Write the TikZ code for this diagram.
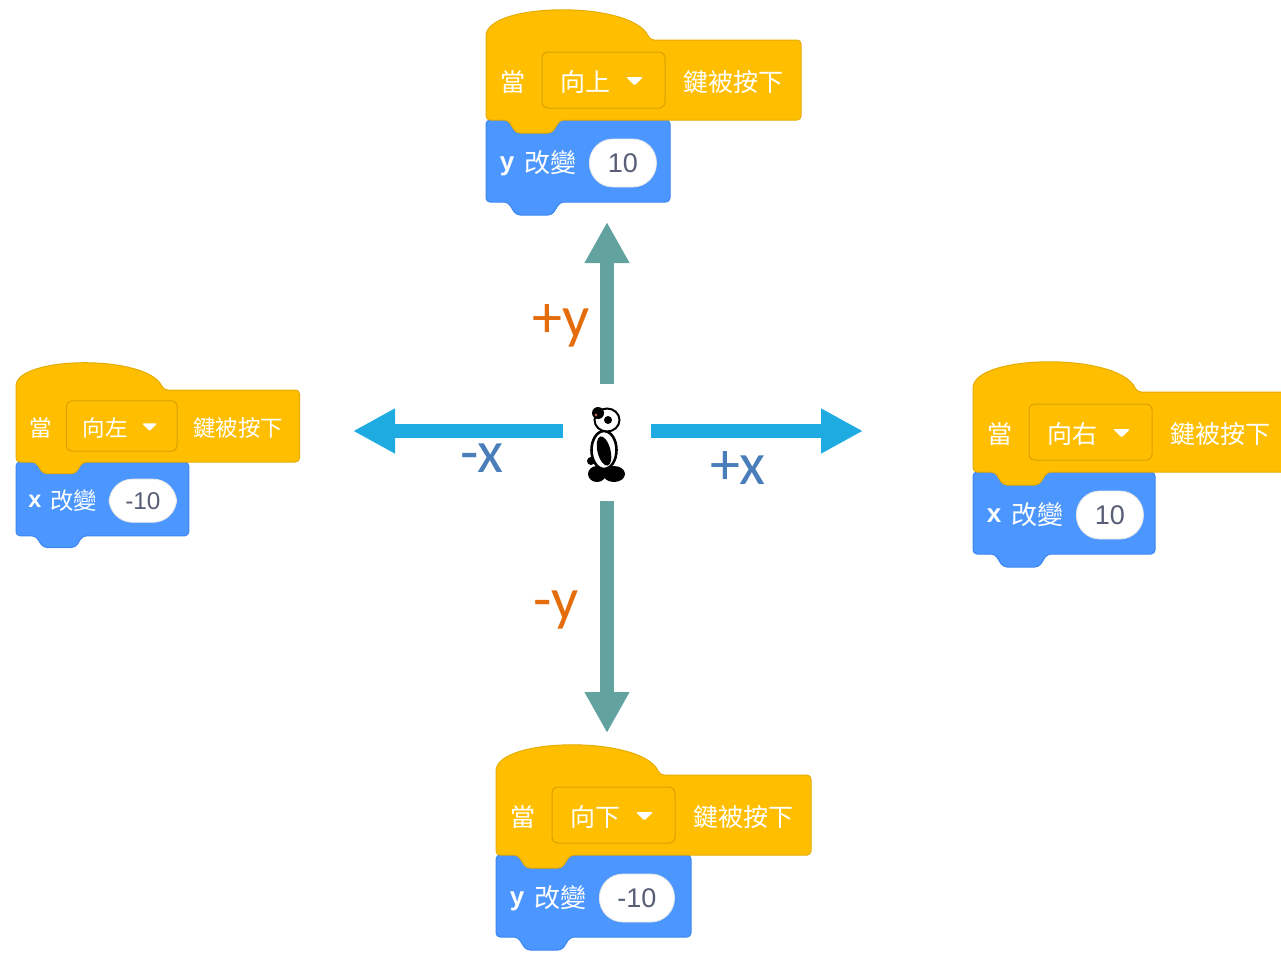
\documentclass[tikz,border=0pt]{standalone}
\usepackage{fontspec}
\setmainfont{Liberation Sans}
\newfontfamily\cjk{Noto Sans CJK TC}
\newfontfamily\lbl{Carlito}
\usetikzlibrary{arrows.meta}

\definecolor{evfill}{HTML}{FFBF00}
\definecolor{evline}{HTML}{E6AC00}
\definecolor{evmenu}{HTML}{D9A000}
\definecolor{mofill}{HTML}{4C97FF}
\definecolor{moline}{HTML}{3D86EE}
\definecolor{valtext}{HTML}{575E75}
\definecolor{axisteal}{HTML}{62A39F}
\definecolor{axisblue}{HTML}{1DABE2}
\definecolor{lblorange}{HTML}{E46C0A}
\definecolor{lblblue}{HTML}{4A7EBB}
\definecolor{pandaear}{HTML}{E07070}

\tikzset{
  hatshape/.style={fill=evfill, draw=evline, line width=1pt, rounded corners=4pt},
  motionshape/.style={fill=mofill, draw=moline, line width=1pt, rounded corners=4pt},
  menubox/.style={draw=evmenu, line width=1pt, rounded corners=6pt,
    minimum width=123pt, minimum height=56pt, inner sep=0pt},
  cjktext/.style={text=white, font=\cjk\fontsize{25}{25}\selectfont, inner sep=0pt},
  vartext/.style={text=white, font=\bfseries\fontsize{26}{26}\selectfont, inner sep=0pt, anchor=base},
  valoval/.style={fill=white, draw=black!10, line width=0.8pt, rounded corners=23.5pt,
    minimum width=67pt, minimum height=48pt, inner xsep=18pt, inner ysep=0pt,
    text=valtext, font=\fontsize{27}{27}\selectfont, anchor=west},
  axisv/.style={draw=axisteal, line width=14pt, -{Triangle[width=42pt,length=41pt]}},
  axish/.style={draw=axisblue, line width=14pt, -{Triangle[width=42pt,length=42pt]}},
  ylabel/.style={text=lblorange, font=\lbl\fontsize{60}{60}\selectfont, inner sep=0pt},
  xlabel/.style={text=lblblue, font=\lbl\fontsize{60}{60}\selectfont, inner sep=0pt},
}

% "when key pressed" hat block with a "change by" motion block below it
% #1 name, #2 left x, #3 top y of hat body, #4 scale, #5 key, #6 variable,
% #7 value, #8 width of the motion block
\newcommand\keyscript[8]{%
  \begin{scope}[shift={(#2,-#3)}, scale=#4, transform shape]
    \path[motionshape] (0,-80) -- (22,-80) -- (30,-93) -- (66,-93) -- (74,-80)
      -- (#8,-80) -- (#8,-162) -- (74,-162) -- (66,-175) -- (30,-175)
      -- (22,-162) -- (0,-162) -- cycle;
    \path[hatshape] (0,0) .. controls (0,38) and (146,40) .. (164,0) -- (315,0)
      -- (315,-80) -- (74,-80) -- (66,-93) -- (30,-93) -- (22,-80) -- (0,-80) -- cycle;
    \node[cjktext] (#1-when) at (27,-42) {當};
    \node[menubox] (#1-menu) at (117.5,-40) {};
    \node[cjktext, anchor=west] (#1-key) at (74,-42) {#5};
    \path[fill=white, rounded corners=1.2pt] (140,-37) -- (157,-37) -- (148.5,-45.5) -- cycle;
    \node[cjktext] (#1-pressed) at (247,-42) {鍵被按下};
    \node[vartext] (#1-var) at (21,-130) {#6};
    \node[cjktext, font=\cjk\fontsize{26}{26}\selectfont] (#1-change) at (64,-123) {改變};
    \node[valoval] (#1-value) at (103,-123) {#7};
  \end{scope}}

\begin{document}
\begin{tikzpicture}[x=1pt, y=1pt]
  \useasboundingbox (0,0) rectangle (1281,-967);
  \clip (0,0) rectangle (1281,-967);

  % the four key scripts
  \keyscript{up}{486}{40}{1}{向上}{y}{10}{184}
  \keyscript{left}{16}{390}{0.9}{向左}{x}{-10}{192}
  \keyscript{right}{973}{392}{1}{向右}{x}{10}{182}
  \keyscript{down}{496}{775}{1}{向下}{y}{-10}{195}

  % axis arrows around the sprite
  \coordinate (up-start) at (607,-384);
  \coordinate (up-tip) at (607,-222);
  \coordinate (dn-start) at (607,-501);
  \coordinate (dn-tip) at (607,-733);
  \coordinate (lt-start) at (563,-431);
  \coordinate (lt-tip) at (353,-431);
  \coordinate (rt-start) at (651,-431);
  \coordinate (rt-tip) at (863,-431);
  \draw[axisv] (up-start) -- (up-tip);
  \draw[axisv] (dn-start) -- (dn-tip);
  \draw[axish] (lt-start) -- (lt-tip);
  \draw[axish] (rt-start) -- (rt-tip);

  \node[ylabel] (plusy) at (561,-326) {+y};
  \node[ylabel] (minusy) at (556,-610) {-y};
  \node[xlabel] (minusx) at (482,-458) {-x};
  \node[xlabel] (plusx) at (738,-468) {+x};

  % panda sprite
  \coordinate (panda) at (606,-446);
  \begin{scope}
    \fill[black] (597,-474) ellipse [x radius=9, y radius=8];
    \fill[black] (614,-474) ellipse [x radius=11, y radius=8];
    \fill[black] (591,-461) ellipse [x radius=4, y radius=4];
    \filldraw[fill=white, draw=black, line width=2.6pt] (604,-450) ellipse [x radius=12.5, y radius=19];
    \fill[black, rotate around={14:(604,-451)}] (604,-451) ellipse [x radius=6.5, y radius=15];
    \filldraw[fill=white, draw=black, line width=2pt] (607,-420) ellipse [x radius=12.5, y radius=11.5];
    \fill[black] (598,-413) circle [radius=6];
    \fill[pandaear] (596,-415) circle [radius=1.4];
    \fill[black] (608,-420) circle [radius=4];
  \end{scope}
\end{tikzpicture}
\end{document}
